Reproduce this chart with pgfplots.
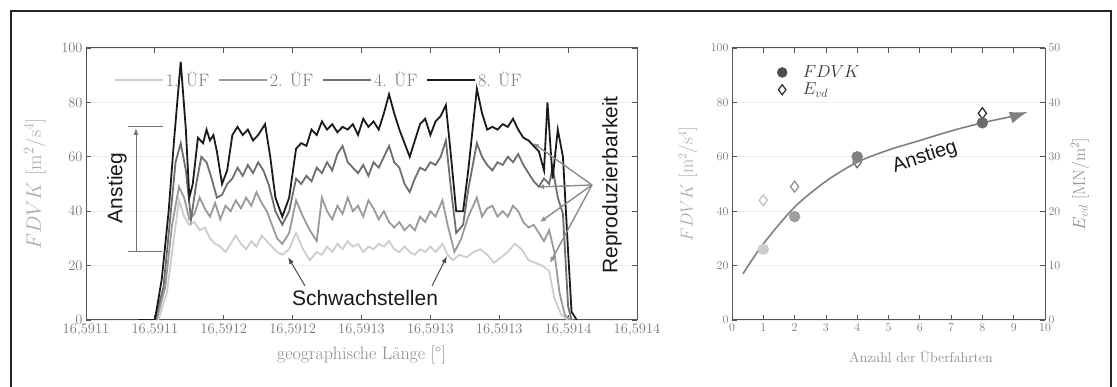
\documentclass[border=0pt]{standalone}
\usepackage{fontspec}
\usepackage{pgfplots}
\pgfplotsset{compat=1.18}
\usetikzlibrary{arrows.meta}
\newfontfamily\sansf{Liberation Sans}
\definecolor{cA}{HTML}{CDCDCD}
\definecolor{cB}{HTML}{9A9A9A}
\definecolor{cC}{HTML}{6E6E6E}
\definecolor{cD}{HTML}{1A1A1A}
\definecolor{axc}{HTML}{555555}
\definecolor{tickc}{HTML}{777777}
\definecolor{labc}{HTML}{8A8A8A}
\definecolor{ylabc}{HTML}{AAAAAA}
\begin{document}
\begin{tikzpicture}[x=1pt,y=1pt]
\useasboundingbox (0,0) rectangle (1117,387);
\draw[line width=2pt, color=black!85] (11,-3) -- (11,376) -- (1111,376) -- (1111,-3);

% ---------------- left panel ----------------
\begin{axis}[
  at={(86pt,67pt)}, anchor=south west,
  scale only axis, width=551pt, height=272pt,
  xmin=0, xmax=32, ymin=0, ymax=100,
  xtick={0,4,...,32},
  xticklabels={{16,5911},{16,5911},{16,5912},{16,5912},{16,5913},{16,5913},{16,5913},{16,5914},{16,5914}},
  ytick={0,20,...,100},
  axis line style={axc, line width=1pt},
  tick style={axc, line width=0.8pt},
  major tick length=5pt,
  tick label style={font=\fontsize{14.5}{17}\selectfont, text=tickc},
  ymajorgrids, grid style={black!7, line width=0.6pt},
  xlabel={geographische Länge [°]},
  ylabel={$FDVK$ [m$^2$/s$^4$]},
  xlabel style={font=\fontsize{18}{21}\selectfont, at={(axis description cs:0.5,-0.129)}, anchor=center, text=labc},
  ylabel style={font=\fontsize{20}{23}\selectfont, at={(axis description cs:-0.0926,0.5)}, anchor=center, text=ylabc},
  legend style={at={(axis description cs:0.045,0.882)}, anchor=west, draw=none, fill=none,
    legend columns=4, font=\fontsize{18}{20}\selectfont, text=tickc,
    /tikz/every even column/.append style={column sep=7pt}},
  legend image code/.code={\draw[#1] (0pt,0pt) -- (48pt,0pt);},
]
\addplot[cA, line width=1.8pt] coordinates {
(3.0,0) (4.2,0) (4.7,10) (5.1,30) (5.4,44) (5.7,38) (6.0,35) (6.3,36) (6.6,33) (6.9,34)
(7.2,30) (7.5,28) (7.8,27) (8.1,25) (8.4,28) (8.7,31) (9.0,28) (9.3,26) (9.6,29) (9.9,27)
(10.2,31) (10.5,29) (10.8,27) (11.1,25) (11.4,24) (11.8,26) (12.2,32) (12.6,26) (13.0,22) (13.4,25)
(13.7,24) (14.0,27) (14.3,25) (14.6,28) (14.9,26) (15.2,29) (15.5,27) (15.8,28) (16.1,25) (16.4,27)
(16.7,26) (17.0,28) (17.3,27) (17.6,29) (17.9,26) (18.2,25) (18.5,27) (18.8,25) (19.1,24) (19.4,26)
(19.7,25) (20.0,27) (20.3,25) (20.7,28) (21.0,24) (21.3,22) (21.7,24) (22.1,23) (22.5,25) (22.9,26)
(23.3,24) (23.7,21) (24.1,23) (24.5,25) (24.9,28) (25.3,26) (25.7,22) (26.1,21) (26.5,20) (26.9,18)
(27.2,8) (27.6,2) (28.0,0) (28.5,0)};
\addlegendentry{1. ÜF}
\addplot[cB, line width=1.8pt] coordinates {
(3.0,0) (4.1,0) (4.6,12) (5.0,35) (5.4,49) (5.7,45) (6.0,37) (6.3,39) (6.6,45) (6.9,41)
(7.2,38) (7.5,43) (7.8,37) (8.1,42) (8.4,40) (8.7,44) (9.0,41) (9.3,45) (9.6,42) (9.9,47)
(10.2,43) (10.5,40) (10.8,35) (11.1,30) (11.4,28) (11.8,32) (12.2,44) (12.6,38) (13.0,33) (13.4,29)
(13.7,45) (14.0,40) (14.3,37) (14.6,42) (14.9,39) (15.2,45) (15.5,40) (15.8,42) (16.1,38) (16.4,44)
(16.7,41) (17.0,37) (17.3,40) (17.6,36) (17.9,34) (18.2,36) (18.5,33) (18.8,35) (19.1,33) (19.4,38)
(19.7,36) (20.0,40) (20.3,38) (20.7,44) (21.0,35) (21.4,25) (21.8,30) (22.2,38) (22.7,45) (23.0,38)
(23.3,41) (23.6,42) (23.9,38) (24.2,40) (24.5,38) (24.8,42) (25.1,40) (25.4,36) (25.7,34) (26.0,35)
(26.3,32) (26.6,29) (26.9,33) (27.2,25) (27.5,10) (27.8,2) (28.1,0) (28.5,0)};
\addlegendentry{2. ÜF}
\addplot[cC, line width=1.8pt] coordinates {
(3.0,0) (4.0,0) (4.5,12) (4.9,38) (5.2,58) (5.5,65) (5.8,55) (6.1,37) (6.4,50) (6.7,60)
(7.0,58) (7.3,52) (7.6,45) (7.9,46) (8.2,50) (8.5,52) (8.8,56) (9.1,53) (9.4,57) (9.7,54)
(10.0,58) (10.3,55) (10.6,50) (11.0,40) (11.4,35) (11.8,40) (12.2,52) (12.5,50) (12.8,53) (13.1,51)
(13.4,56) (13.7,54) (14.0,58) (14.3,55) (14.6,61) (14.9,64) (15.2,58) (15.5,56) (15.8,54) (16.1,57)
(16.4,53) (16.7,58) (17.0,56) (17.3,60) (17.6,64) (17.9,58) (18.2,56) (18.5,50) (18.8,47) (19.1,52)
(19.4,56) (19.7,55) (20.0,58) (20.3,57) (20.6,60) (20.9,66) (21.2,48) (21.5,32) (21.9,35) (22.2,48)
(22.7,65) (23.0,60) (23.3,57) (23.6,55) (23.9,58) (24.2,57) (24.5,60) (24.8,58) (25.1,61) (25.4,57)
(25.7,54) (26.0,51) (26.3,49) (26.6,52) (26.9,50) (27.1,56) (27.4,45) (27.7,39) (28.0,5) (28.2,0) (28.5,0)};
\addlegendentry{4. ÜF}
\addplot[cD, line width=1.8pt] coordinates {
(3.0,0) (4.0,0) (4.4,15) (4.8,40) (5.1,65) (5.5,95) (5.8,70) (6.0,45) (6.2,50) (6.5,67)
(6.8,65) (7.0,70) (7.2,66) (7.4,68) (7.6,62) (7.9,50) (8.2,55) (8.5,68) (8.8,71) (9.1,68)
(9.4,70) (9.7,66) (10.0,68) (10.4,72) (10.7,60) (11.0,45) (11.4,38) (11.8,45) (12.2,63) (12.5,65)
(12.8,64) (13.1,70) (13.4,68) (13.7,73) (14.0,70) (14.3,72) (14.6,69) (14.9,71) (15.2,70) (15.5,72)
(15.8,68) (16.1,74) (16.4,71) (16.7,73) (17.0,70) (17.3,76) (17.6,83) (17.9,76) (18.2,70) (18.5,65)
(18.8,60) (19.1,66) (19.4,72) (19.7,74) (20.0,68) (20.3,73) (20.6,75) (20.9,79) (21.2,60) (21.5,40)
(21.9,40) (22.2,55) (22.7,85) (23.0,76) (23.3,70) (23.6,71) (23.9,70) (24.2,72) (24.5,71) (24.8,74)
(25.1,70) (25.4,67) (25.7,66) (26.0,64) (26.3,62) (26.6,55) (26.8,80) (27.1,52) (27.4,70) (27.7,60)
(28.0,25) (28.2,3) (28.5,0)};
\addlegendentry{8. ÜF}
\end{axis}

% left annotations
\draw[black!55, line width=1pt] (128,260) -- (163,260);
\draw[black!55, line width=1pt] (128,135) -- (162,135);
\draw[black!55, line width=1pt, -{Latex[length=7pt,width=5pt]}] (136,135) -- (136,259);
\node[rotate=90, font=\sansf\fontsize{21}{24}\selectfont, text=black!90] at (117,199) {Anstieg};
\node[font=\sansf\fontsize{21}{24}\selectfont, text=black!90] at (365,89) {Schwachstellen};
\draw[black!70, line width=1pt, -{Latex[length=7pt,width=5pt]}] (305,101) -- (288,130);
\draw[black!70, line width=1pt, -{Latex[length=7pt,width=5pt]}] (432,101) -- (447,131);
\node[rotate=90, font=\sansf\fontsize{21}{24}\selectfont, text=black!90] at (612,202) {Reproduzierbarkeit};
\foreach \tx/\ty in {533/244, 538/200, 540/165, 550/124}{
  \draw[black!45, line width=1.4pt, -{Latex[length=6pt,width=5pt]}] (592,202) -- (\tx,\ty);
}

% ---------------- right panel ----------------
\begin{axis}[
  at={(732pt,67pt)}, anchor=south west,
  scale only axis, width=313pt, height=272pt,
  xmin=0, xmax=10, ymin=0, ymax=50,
  axis y line*=right, axis x line=none,
  ytick={0,10,...,50},
  axis line style={axc, line width=1pt},
  tick style={axc, line width=0.8pt},
  major tick length=5pt,
  tick label style={font=\fontsize{13}{15}\selectfont, text=tickc},
  ymajorgrids, grid style={black!7, line width=0.6pt},
  ylabel={$E_{vd}$ [MN/m$^2$]},
  ylabel style={font=\fontsize{17}{19}\selectfont, at={(axis description cs:1.112,0.5)}, anchor=center, text=labc},
]
\addplot[only marks, mark=diamond*, mark size=5.5pt, line width=1.2pt, draw=black!25, fill=white] coordinates {(1,22)};
\addplot[only marks, mark=diamond*, mark size=5.5pt, line width=1.2pt, draw=black!45, fill=white] coordinates {(2,24.5)};
\addplot[only marks, mark=diamond*, mark size=5.5pt, line width=1.2pt, draw=black!60, fill=white] coordinates {(4,29)};
\addplot[only marks, mark=diamond*, mark size=5.5pt, line width=1.2pt, draw=black!85, fill=white] coordinates {(8,38)};
\end{axis}

\begin{axis}[
  at={(732pt,67pt)}, anchor=south west,
  scale only axis, width=313pt, height=272pt,
  xmin=0, xmax=10, ymin=0, ymax=100,
  axis y line*=left,
  xtick={0,1,...,10}, ytick={0,20,...,100},
  axis line style={axc, line width=1pt},
  tick style={axc, line width=0.8pt},
  major tick length=5pt,
  tick label style={font=\fontsize{13}{15}\selectfont, text=tickc},
  xlabel={Anzahl der Überfahrten},
  ylabel={$FDVK$ [m$^2$/s$^4$]},
  xlabel style={font=\fontsize{14}{16}\selectfont, at={(axis description cs:0.604,-0.136)}, anchor=center, text=labc},
  ylabel style={font=\fontsize{18.5}{21}\selectfont, at={(axis description cs:-0.1406,0.5)}, anchor=center, text=ylabc},
  legend style={at={(axis description cs:0.11,0.95)}, anchor=north west, draw=none, fill=none,
    font=\fontsize{18}{22}\selectfont, text=black!80, row sep=0pt},
  legend cell align=left,
  legend image code/.code={\path (0pt,-4pt) (30pt,4pt); \draw[#1] plot coordinates {(12pt,0pt)};},
]
\addlegendimage{only marks, mark=*, mark size=5pt, color=black!70}
\addlegendentry{$FDVK$}
\addlegendimage{only marks, mark=diamond, mark size=5pt, line width=1.2pt, color=black!85}
\addlegendentry{$E_{vd}$}
\addplot[smooth, color=black!50, line width=1.6pt, -{Latex[length=18pt,width=12pt]}, forget plot] coordinates {
(0.35,17) (1,28) (2,41.5) (3,51) (4,58) (5,62.5) (6,66) (7,69.5) (8,72.5) (9,75) (9.45,76.5)};
\addplot[only marks, mark=*, mark size=5.5pt, color=black!20, forget plot] coordinates {(1,26)};
\addplot[only marks, mark=*, mark size=5.5pt, color=black!38, forget plot] coordinates {(2,38)};
\addplot[only marks, mark=*, mark size=5.5pt, color=black!50, forget plot] coordinates {(4,60)};
\addplot[only marks, mark=*, mark size=5.5pt, color=black!58, forget plot] coordinates {(8,72.5)};
\end{axis}
\node[rotate=18, font=\sansf\fontsize{20}{24}\selectfont, text=black!90] at (925,230) {Anstieg};
\end{tikzpicture}
\end{document}
